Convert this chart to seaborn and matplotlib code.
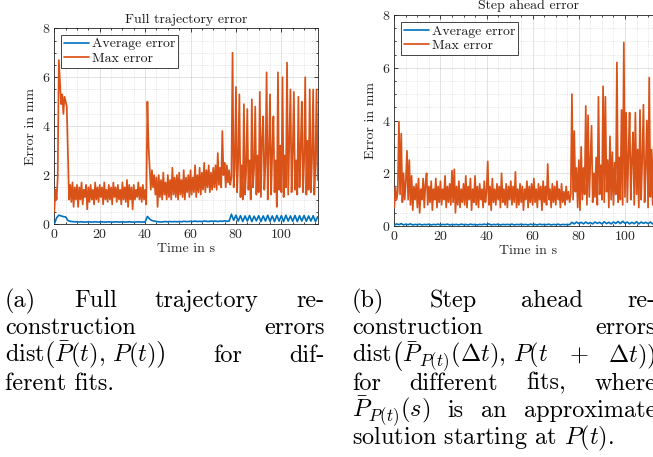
import numpy as np
import pandas as pd
import matplotlib
matplotlib.use("Agg")
import matplotlib.pyplot as plt
import seaborn as sns
from matplotlib.ticker import MultipleLocator

# ---------------- data ----------------
DT_FINE = 0.5   # sampling of the max-error series, s
DT_AVG = 1.0    # sampling of the average-error series, s

full_max = [
    0.5, 1.4, 1.0, 1.9, 6.7, 5.8, 4.9, 5.3, 4.5, 5.2,
    5.0, 4.8, 2.9, 1.0, 1.6, 0.9, 1.7, 0.7, 1.5, 1.0,
    1.6, 0.7, 1.5, 1.0, 1.7, 0.8, 1.4, 1.1, 1.6, 0.6,
    1.5, 0.9, 1.6, 1.0, 1.4, 0.8, 1.7, 1.0, 1.5, 0.9,
    1.6, 1.1, 1.5, 0.8, 1.7, 1.0, 1.4, 0.9, 1.6, 1.0,
    1.5, 0.8, 1.7, 1.1, 1.5, 0.9, 1.6, 1.0, 1.4, 0.8,
    1.7, 1.0, 1.5, 0.9, 1.8, 0.7, 1.6, 1.0, 1.5, 0.6,
    1.6, 1.0, 1.4, 1.1, 1.7, 1.0, 1.5, 0.9, 1.6, 1.0,
    1.4, 0.8, 5.0, 3.2, 2.3, 1.4, 2.2, 1.5, 2.0, 1.2,
    1.9, 0.7, 2.0, 1.1, 1.8, 1.0, 2.1, 1.2, 1.7, 1.0,
    2.0, 1.1, 1.8, 1.0, 2.3, 1.2, 1.9, 1.1, 2.0, 1.0,
    2.1, 1.2, 1.8, 1.1, 2.2, 1.0, 1.9, 1.3, 2.0, 1.1,
    2.2, 1.2, 1.9, 1.3, 2.4, 1.1, 2.0, 1.3, 2.3, 1.2,
    2.1, 1.4, 2.5, 1.3, 2.2, 1.5, 2.4, 1.3, 2.1, 1.4,
    2.3, 1.5, 2.4, 1.4, 2.9, 1.6, 2.3, 1.5, 3.8, 2.0,
    2.5, 1.5, 2.4, 1.7, 2.2, 1.6, 1.9, 7.0, 1.5, 2.3,
    5.6, 1.3, 2.6, 5.3, 1.1, 2.4, 1.0, 4.9, 1.2, 2.2,
    4.7, 1.4, 2.6, 1.0, 5.1, 1.5, 2.3, 4.8, 1.2, 2.8,
    1.3, 5.4, 1.1, 3.5, 4.4, 1.4, 2.5, 6.2, 1.0, 2.9,
    5.3, 1.2, 3.0, 4.4, 1.3, 2.6, 0.7, 6.2, 1.4, 3.2,
    1.3, 6.0, 1.1, 2.8, 1.5, 6.6, 1.2, 3.3, 5.5, 1.3,
    2.9, 5.4, 1.4, 2.6, 1.2, 5.2, 1.5, 3.1, 5.0, 1.3,
    2.5, 6.0, 1.2, 3.4, 1.4, 5.5, 1.3, 2.7, 5.5, 1.2,
    2.4, 5.5, 1.8,
]

full_avg = [
    0.0, 0.25, 0.36, 0.33, 0.3, 0.29, 0.14, 0.11, 0.1, 0.09,
    0.09, 0.08, 0.09, 0.08, 0.08, 0.09, 0.08, 0.08, 0.09, 0.08,
    0.08, 0.09, 0.08, 0.08, 0.09, 0.08, 0.08, 0.09, 0.08, 0.08,
    0.09, 0.08, 0.08, 0.09, 0.08, 0.08, 0.08, 0.09, 0.08, 0.08,
    0.08, 0.31, 0.2, 0.14, 0.12, 0.1, 0.09, 0.08, 0.09, 0.1,
    0.09, 0.1, 0.09, 0.1, 0.09, 0.1, 0.09, 0.11, 0.1, 0.1,
    0.11, 0.1, 0.12, 0.1, 0.11, 0.1, 0.12, 0.11, 0.1, 0.12,
    0.11, 0.12, 0.1, 0.12, 0.11, 0.13, 0.11, 0.12, 0.4, 0.15,
    0.36, 0.12, 0.34, 0.1, 0.33, 0.12, 0.35, 0.1, 0.32, 0.13,
    0.34, 0.1, 0.33, 0.12, 0.36, 0.11, 0.33, 0.1, 0.35, 0.12,
    0.34, 0.1, 0.36, 0.12, 0.33, 0.11, 0.35, 0.1, 0.34, 0.12,
    0.35, 0.11, 0.33, 0.12, 0.34, 0.1, 0.3,
]

step_max = [
    0.7, 1.5, 1.0, 1.3, 3.95, 1.2, 3.5, 0.9, 2.0, 1.0,
    1.7, 2.85, 1.0, 2.5, 0.8, 1.9, 0.6, 1.5, 1.0, 1.6,
    0.7, 1.8, 0.5, 1.4, 1.0, 1.8, 0.7, 1.6, 2.0, 0.8,
    1.5, 0.9, 1.7, 0.6, 1.4, 1.0, 1.8, 0.7, 1.5, 0.9,
    1.7, 0.8, 1.4, 1.0, 1.9, 0.7, 1.5, 0.9, 1.6, 0.8,
    2.1, 0.9, 2.15, 0.5, 1.5, 0.8, 1.7, 0.7, 1.4, 0.9,
    1.6, 0.8, 1.9, 0.7, 1.5, 1.0, 1.8, 0.6, 1.4, 0.9,
    1.9, 0.8, 1.5, 0.7, 1.6, 1.0, 1.4, 0.7, 1.7, 0.9,
    1.3, 2.45, 0.8, 1.5, 0.6, 1.8, 0.9, 1.4, 0.8, 1.6,
    1.0, 1.5, 0.7, 2.0, 0.9, 1.4, 0.8, 1.6, 0.7, 1.5,
    1.0, 1.7, 0.8, 1.5, 0.9, 2.05, 0.7, 1.4, 0.8, 1.6,
    0.9, 1.5, 0.6, 1.4, 1.0, 1.7, 0.7, 1.5, 0.9, 1.6,
    0.8, 1.8, 0.9, 1.4, 0.7, 1.6, 1.0, 1.5, 0.6, 1.7,
    0.9, 1.5, 0.8, 2.35, 1.0, 1.4, 0.7, 1.6, 0.9, 1.5,
    0.8, 1.7, 1.0, 1.4, 0.7, 1.6, 0.9, 1.3, 0.8, 1.5,
    1.0, 1.3, 0.9, 1.2, 5.0, 1.0, 3.6, 1.3, 2.2, 0.7,
    2.5, 0.6, 3.0, 1.0, 2.2, 1.2, 4.55, 0.8, 4.2, 1.1,
    2.4, 3.8, 0.9, 2.0, 1.1, 2.6, 0.8, 4.9, 1.2, 2.3,
    1.0, 5.3, 0.9, 4.9, 1.3, 2.5, 0.7, 3.4, 1.0, 2.8,
    0.8, 2.4, 1.2, 6.2, 0.9, 2.6, 1.0, 4.4, 0.8, 6.96,
    1.1, 4.3, 0.9, 2.7, 4.3, 1.0, 2.5, 3.55, 0.8, 4.3,
    1.2, 2.9, 0.7, 4.4, 1.0, 2.6, 4.6, 0.9, 2.3, 4.0,
    0.7, 5.63, 1.1, 2.9, 0.8, 3.1, 1.0, 2.4, 0.6, 3.0,
    1.2, 2.6, 1.0,
]

step_avg = [
    0.03, 0.08, 0.05, 0.09, 0.04, 0.07, 0.05, 0.08, 0.04, 0.06,
    0.05, 0.07, 0.04, 0.06, 0.05, 0.07, 0.04, 0.06, 0.05, 0.07,
    0.04, 0.06, 0.05, 0.07, 0.04, 0.06, 0.05, 0.06, 0.04, 0.07,
    0.05, 0.06, 0.04, 0.07, 0.05, 0.06, 0.04, 0.06, 0.05, 0.07,
    0.05, 0.08, 0.04, 0.06, 0.05, 0.07, 0.04, 0.06, 0.05, 0.06,
    0.05, 0.07, 0.04, 0.06, 0.05, 0.07, 0.05, 0.06, 0.04, 0.07,
    0.05, 0.06, 0.04, 0.07, 0.05, 0.06, 0.05, 0.07, 0.04, 0.06,
    0.05, 0.07, 0.04, 0.06, 0.05, 0.06, 0.05, 0.14, 0.08, 0.15,
    0.09, 0.14, 0.08, 0.15, 0.09, 0.13, 0.08, 0.15, 0.1, 0.14,
    0.08, 0.16, 0.09, 0.14, 0.08, 0.15, 0.1, 0.17, 0.09, 0.18,
    0.1, 0.15, 0.08, 0.14, 0.09, 0.16, 0.08, 0.15, 0.1, 0.14,
    0.09, 0.15, 0.08, 0.14, 0.09, 0.13, 0.1,
]

series_labels = ["Average error", "Max error"]
titles = ["Full trajectory error", "Step ahead error"]
x_label = "Time in s"
y_label = "Error in mm"
x_ticks = [0, 20, 40, 60, 80, 100]
y_ticks = [0, 2, 4, 6, 8]

# caption: list of (words, justified?) per line
caption_a = [
    (["(a)", "Full", "trajectory", "re-"], True),
    (["construction", "errors"], True),
    ([r"$\mathrm{dist}\left(\bar{P}(t),\,P(t)\right)$", "for", "dif-"], True),
    (["ferent fits."], False),
]
caption_b = [
    (["(b)", "Step", "ahead", "re-"], True),
    (["construction", "errors"], True),
    ([r"$\mathrm{dist}\left(\bar{P}_{P(t)}(\Delta t),\,P(t\right.$", "$+$",
      r"$\left.\Delta t)\right)$"], True),
    (["for", "different", "fits,", "where"], True),
    ([r"$\bar{P}_{P(t)}(s)$", "is", "an", "approximate"], True),
    ([r"solution starting at $P(t)$."], False),
]

# ---------------- style ----------------
sns.set_theme(style="white")
plt.rcParams.update({
    "font.family": ["cmr10", "DejaVu Serif"],
    "mathtext.fontset": "cm",
    "axes.formatter.use_mathtext": True,
    "axes.unicode_minus": False,
})

BLUE = "#0072BD"
ORANGE = "#D95319"
W, H = 653, 457
CAP_FS = 17.5

fig = plt.figure(figsize=(W / 100, H / 100), dpi=100)
fig.patch.set_facecolor("white")


def px_axes(x0, y_top, w, h):
    return fig.add_axes([x0 / W, 1 - (y_top + h) / H, w / W, h / H])


ax1 = px_axes(54.3, 28.3, 263.4, 195.7)
ax2 = px_axes(394.3, 15.0, 267.6, 211.0)


def make_df(avg, mx):
    t_avg = np.arange(len(avg)) * DT_AVG
    t_max = np.arange(len(mx)) * DT_FINE
    return (pd.DataFrame({"t": t_avg, "err": avg}),
            pd.DataFrame({"t": t_max, "err": mx}))


for ax, (avg, mx), title, leg_off in [
    (ax1, (full_avg, full_max), titles[0], (6.7, 6.7)),
    (ax2, (step_avg, step_max), titles[1], (6.7, 7.0)),
]:
    d_avg, d_max = make_df(avg, mx)
    sns.lineplot(data=d_avg, x="t", y="err", ax=ax, color=BLUE, lw=1.2,
                 label=series_labels[0], estimator=None, zorder=4)
    sns.lineplot(data=d_max, x="t", y="err", ax=ax, color=ORANGE, lw=1.25,
                 label=series_labels[1], estimator=None, zorder=3)
    ax.set_xlim(0, 116)
    ax.set_ylim(0, 8)
    ax.set_xticks(x_ticks)
    ax.set_yticks(y_ticks)
    ax.xaxis.set_minor_locator(MultipleLocator(5))
    ax.yaxis.set_minor_locator(MultipleLocator(0.5))
    ax.grid(which="major", color="0.15", alpha=0.15, lw=0.6)
    ax.grid(which="minor", color="0.15", alpha=0.2, lw=0.5, ls=":")
    ax.set_axisbelow(True)
    ax.tick_params(which="both", direction="in", top=True, right=True,
                   bottom=True, left=True, color="0.15", width=0.6,
                   labelsize=10, labelcolor="0.15", pad=3)
    ax.tick_params(which="major", length=3)
    ax.tick_params(which="minor", length=1.6)
    for s in ax.spines.values():
        s.set_color("0.15")
        s.set_linewidth(0.6)
    ax.set_xlabel(x_label, fontsize=10, color="0.15", labelpad=1)
    ax.set_ylabel(y_label, fontsize=10, color="0.15", labelpad=3)
    ax.set_title(title, fontsize=10, color="0.1", pad=4)
    bb = ax.get_position()
    axw, axh = bb.width * W, bb.height * H
    leg = ax.legend(loc="upper left",
                    bbox_to_anchor=(leg_off[0] / axw, 1 - leg_off[1] / axh),
                    borderaxespad=0, fontsize=10, frameon=True, fancybox=False,
                    handlelength=1.8, handletextpad=0.2, labelspacing=0.15,
                    borderpad=0.2, framealpha=1)
    leg.get_frame().set_edgecolor("0.15")
    leg.get_frame().set_linewidth(0.6)
    for t in leg.get_texts():
        t.set_color("0.1")

# ---------------- justified captions ----------------
fig.canvas.draw()
renderer = fig.canvas.get_renderer()
baselines = [307, 334.5, 362, 389.5, 417, 444.5]


def place_caption(lines, left, right):
    for (words, justify), yb in zip(lines, baselines):
        texts = [fig.text(0, 1 - yb / H, w, fontsize=CAP_FS, ha="left",
                          va="baseline", color="black") for w in words]
        widths = [t.get_window_extent(renderer).width for t in texts]
        gap = (right - left - sum(widths)) / (len(words) - 1) if justify and len(words) > 1 else 0
        x = left
        for t, w in zip(texts, widths):
            t.set_x(x / W)
            x += w + gap


place_caption(caption_a, 5, 325)
place_caption(caption_b, 352, 656)

fig.savefig("out.png", dpi=100, facecolor="white")
